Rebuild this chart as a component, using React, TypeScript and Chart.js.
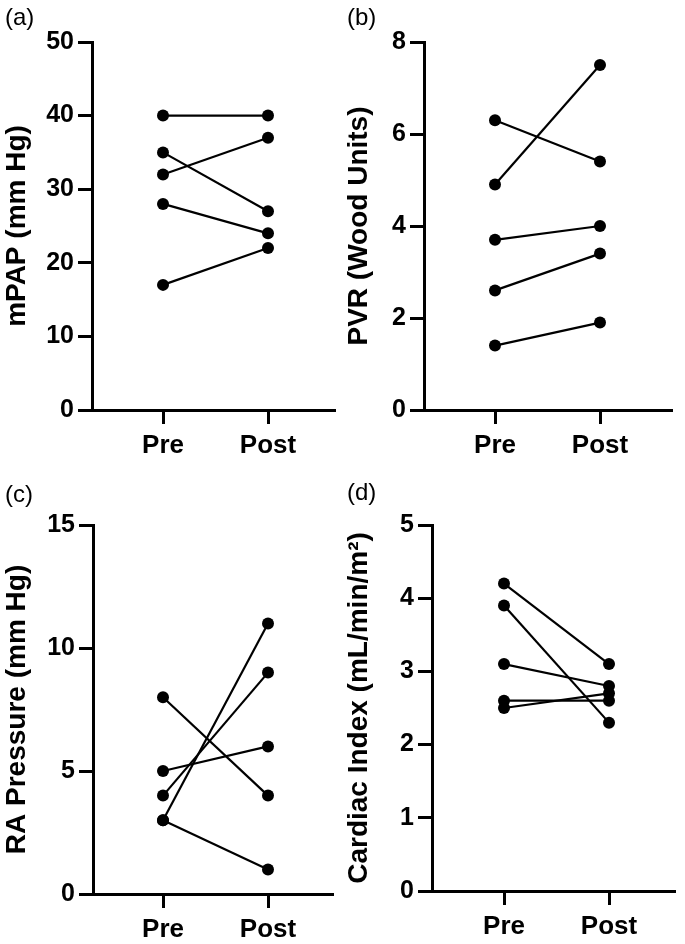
import React, { useEffect, useRef } from 'react';
import { Chart, registerables } from 'chart.js';

Chart.register(...registerables);

const categories = ['Pre', 'Post'];

const mpapPre = [40, 32, 35, 28, 17];
const mpapPost = [40, 37, 27, 24, 22];

const pvrPre = [6.3, 4.9, 3.7, 2.6, 1.4];
const pvrPost = [5.4, 7.5, 4.0, 3.4, 1.9];

const raPre = [8, 5, 4, 3, 3];
const raPost = [4, 6, 9, 11, 1];

const ciPre = [4.2, 3.9, 3.1, 2.6, 2.5];
const ciPost = [3.1, 2.3, 2.8, 2.6, 2.7];

const FONT = "'Liberation Sans', Arial, Helvetica, sans-serif";
const W = 342;
const H = 472;

type PanelProps = {
  tag: string;
  pre: number[];
  post: number[];
  yMax: number;
  step: number;
  title: string;
  x: number;
  y: number;
  left: number;
  top: number;
  right: number;
  bottom: number;
  preX: number;
  postX: number;
  tagTop: number;
};

function Panel(p: PanelProps) {
  const ref = useRef<HTMLCanvasElement | null>(null);
  useEffect(() => {
    if (!ref.current) return;
    const unit = p.postX - p.preX;
    const xMin = 1 - (p.preX - p.left) / unit;
    const xMax = 2 + (p.right - p.postX) / unit;
    const datasets = p.pre.map((v, i) => ({
      data: [
        { x: 1, y: v },
        { x: 2, y: p.post[i] },
      ],
      borderColor: '#000',
      backgroundColor: '#000',
      borderWidth: 2.2,
      pointRadius: 6,
      pointBackgroundColor: '#000',
      pointBorderColor: '#000',
      pointBorderWidth: 0,
      showLine: true,
      clip: false as any,
    }));
    const chart = new Chart(ref.current, {
      type: 'scatter',
      data: { datasets },
      options: {
        animation: false,
        responsive: false,
        devicePixelRatio: 1,
        layout: { padding: { top: p.top, right: W - p.right, bottom: 0, left: 0 } },
        plugins: { legend: { display: false }, tooltip: { enabled: false } },
        scales: {
          x: {
            type: 'linear',
            min: xMin,
            max: xMax,
            afterBuildTicks: (s: any) => {
              s.ticks = [{ value: 1 }, { value: 2 }];
            },
            afterFit: (s: any) => {
              s.height = H - p.bottom;
            },
            ticks: {
              color: '#000',
              font: { family: FONT, size: 26, weight: 'bold' },
              padding: 6,
              maxRotation: 0,
              autoSkip: false,
              callback: (v: any) => categories[Math.round(v) - 1] ?? '',
            },
            grid: {
              drawOnChartArea: false,
              drawTicks: true,
              tickLength: 14,
              tickWidth: 3,
              color: '#000',
            },
            border: { color: '#000', width: 3 },
          },
          y: {
            type: 'linear',
            min: 0,
            max: p.yMax,
            afterFit: (s: any) => {
              s.width = p.left;
            },
            ticks: {
              stepSize: p.step,
              color: '#000',
              font: { family: FONT, size: 25, weight: 'bold' },
              padding: 4,
            },
            grid: {
              drawOnChartArea: false,
              drawTicks: true,
              tickLength: 14,
              tickWidth: 3,
              color: '#000',
            },
            border: { color: '#000', width: 3 },
            title: {
              display: true,
              text: p.title,
              color: '#000',
              font: { family: FONT, size: 28, weight: 'bold' },
              padding: { top: 0, bottom: 0 },
            },
          },
        },
      } as any,
    });
    return () => chart.destroy();
  }, []);
  return (
    <div style={{ position: 'absolute', left: p.x, top: p.y, width: W, height: H }}>
      <canvas ref={ref} width={W} height={H} style={{ width: W, height: H, display: 'block' }} />
      <div
        style={{
          position: 'absolute',
          left: 5,
          top: p.tagTop,
          fontFamily: FONT,
          fontSize: 24,
          color: '#000',
          lineHeight: '28px',
        }}
      >
        {p.tag}
      </div>
    </div>
  );
}

export default function App() {
  return (
    <div style={{ position: 'absolute', left: 0, top: 0, width: 685, height: 944, background: '#fff' }}>
      <Panel tag="(a)" pre={mpapPre} post={mpapPost} yMax={50} step={10} title="mPAP (mm Hg)"
        x={0} y={0} left={92} top={42} right={335} bottom={410} preX={163} postX={268} tagTop={3} />
      <Panel tag="(b)" pre={pvrPre} post={pvrPost} yMax={8} step={2} title="PVR (Wood Units)"
        x={342} y={0} left={82} top={42} right={330} bottom={410} preX={153} postX={258} tagTop={3} />
      <Panel tag="(c)" pre={raPre} post={raPost} yMax={15} step={5} title="RA Pressure (mm Hg)"
        x={0} y={472} left={93} top={53} right={333} bottom={422} preX={163} postX={268} tagTop={8} />
      <Panel tag="(d)" pre={ciPre} post={ciPost} yMax={5} step={1} title="Cardiac Index (mL/min/m²)"
        x={342} y={472} left={90} top={53} right={333} bottom={419} preX={162} postX={267} tagTop={6} />
    </div>
  );
}
